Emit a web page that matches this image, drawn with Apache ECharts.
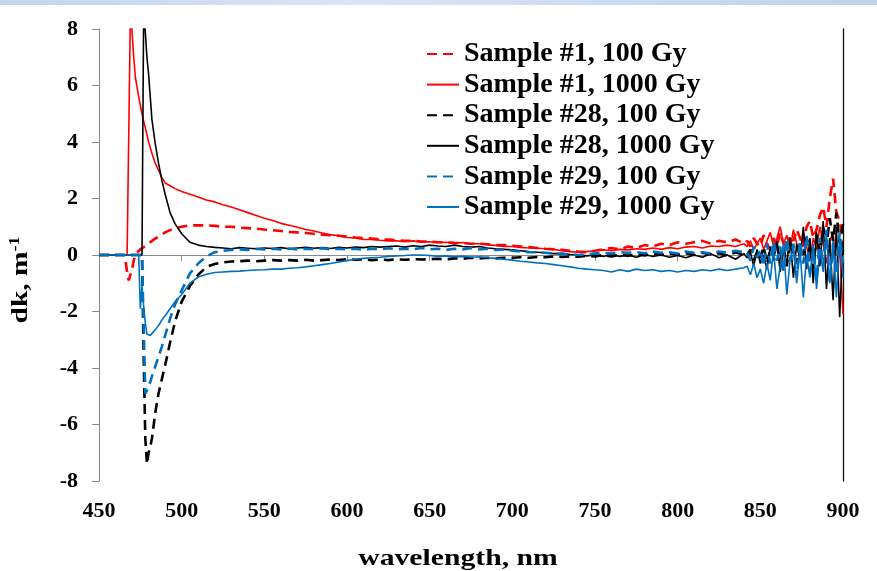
<!DOCTYPE html>
<html>
<head>
<meta charset="utf-8">
<script src="https://cdn.jsdelivr.net/npm/echarts@6/dist/echarts.min.js"></script>
<style>
html,body{margin:0;padding:0;background:#fff;}
#chart{width:877px;height:571px;}
</style>
</head>
<body>
<div id="chart"></div>
<script>
// wavelength grid, nm
const wavelength = [
  450, 460, 465, 466, 467, 468, 469, 470, 471, 472, 474, 475, 476, 477, 478, 479, 480, 481, 482, 484, 486, 488, 490, 493, 496, 500, 505, 510, 515,
  520, 525, 530, 535, 540, 545, 550, 555, 560, 565,
  570, 575, 580, 585, 590, 595, 600, 605, 610, 615,
  620, 625, 630, 635, 640, 645, 650, 655, 660, 665,
  670, 675, 680, 685, 690, 695, 700, 705, 710, 715,
  720, 725, 730, 735, 740, 745, 750, 755, 760, 765,
  770, 775, 780, 785, 790, 795, 800, 805, 810, 815,
  820, 825, 830, 835, 840,
  842, 844, 846, 848, 850, 852, 854, 856, 858, 860, 862, 864, 866, 868, 870,
  872, 874, 876, 878, 880, 882, 884, 886, 888, 890, 892, 894, 896, 898, 900
];

const s1_100 = [
  0, 0, 0, -0.2, -0.6, -0.9, -0.85, -0.5, -0.2, 0, 0.15, 0.2, 0.25, 0.3, 0.3, 0.35, 0.4, 0.45, 0.5, 0.58, 0.65, 0.72, 0.8, 0.88, 0.95, 1.0, 1.05, 1.05, 1.05,
  1.03, 1.0, 1.0, 0.97, 0.95, 0.93, 0.9, 0.88, 0.85, 0.82,
  0.8, 0.78, 0.75, 0.72, 0.7, 0.68, 0.65, 0.62, 0.6, 0.58,
  0.55, 0.55, 0.52, 0.5, 0.5, 0.48, 0.47, 0.45, 0.45, 0.43,
  0.42, 0.4, 0.4, 0.38, 0.35, 0.35, 0.33, 0.3, 0.28, 0.25,
  0.22, 0.2, 0.18, 0.15, 0.12, 0.1, 0.15, 0.2, 0.25, 0.2,
  0.3, 0.25, 0.35, 0.3, 0.4, 0.35, 0.45, 0.4, 0.45, 0.5,
  0.4, 0.5, 0.45, 0.55, 0.4,
  0.5, 0.3, 0.6, 0.4, 0.3, 0.7, 0.4, 0.2, 0.6, 0.3, 0.8, 0.4, 0.2, 0.7, 0.5,
  0.9, 0.6, 0.3, 1.0, 1.2, 0.6, 0.9, 1.4, 1.7, 1.0, 2.0, 2.7, 1.5, 1.2, 0.5
];

const s1_1000 = [
  0, 0, 0, 0, 0, 0, 8.6, 7.9, 7.0, 6.3, 5.6, 5.3, 5.0, 4.75, 4.5, 4.25, 4.0, 3.8, 3.6, 3.25, 3.0, 2.75, 2.55, 2.45, 2.35, 2.25, 2.15, 2.05, 1.95,
  1.88, 1.78, 1.7, 1.6, 1.5, 1.4, 1.3, 1.22, 1.12, 1.05,
  0.98, 0.9, 0.85, 0.78, 0.72, 0.68, 0.62, 0.6, 0.55, 0.55,
  0.52, 0.5, 0.5, 0.48, 0.5, 0.46, 0.47, 0.44, 0.45, 0.42,
  0.44, 0.4, 0.4, 0.36, 0.34, 0.3, 0.3, 0.27, 0.25, 0.24,
  0.22, 0.2, 0.15, 0.12, 0.1, 0.12, 0.15, 0.18, 0.15, 0.2,
  0.18, 0.22, 0.2, 0.25, 0.2, 0.26, 0.22, 0.28, 0.3, 0.25,
  0.32, 0.3, 0.35, 0.3, 0.4,
  0.3, 0.5, 0.2, 0.4, 0.6, 0.2, 0.5, 0.8, 0.3, 0.6, 1.0, 0.4, 0.7, 0.2, 0.9,
  0.4, 0.1, 0.8, 0.3, -0.2, 0.6, 0.2, 1.0, 0.4, -0.3, 0.5, 0.8, -0.5, 0.2, -2.1
];

const s28_100 = [
  0, 0, 0, 0, 0, 0, 0, 0, 0, 0, 0, 0, 0, -3.5, -6.5, -7.4, -7.0, -6.8, -6.5, -5.6, -4.9, -4.4, -3.9, -3.1, -2.35, -1.65, -1.1, -0.7, -0.42,
  -0.32, -0.26, -0.23, -0.22, -0.2, -0.22, -0.2, -0.18, -0.2, -0.18,
  -0.2, -0.17, -0.2, -0.18, -0.16, -0.18, -0.15, -0.17, -0.15, -0.18,
  -0.16, -0.18, -0.15, -0.17, -0.15, -0.16, -0.15, -0.13, -0.15, -0.12,
  -0.13, -0.1, -0.12, -0.1, -0.12, -0.1, -0.1, -0.08, -0.1, -0.07,
  -0.08, -0.05, -0.07, -0.05, -0.06, -0.03, -0.05, 0, -0.05, 0.02,
  -0.03, 0.03, -0.02, 0.05, 0, 0.05, 0.02, 0.06, 0, 0.08,
  0.02, 0.06, -0.02, 0.1, 0,
  0, 0.2, -0.2, 0.1, -0.1, 0.3, -0.3, 0.2, 0, 0.4, -0.2, 0.3, -0.4, 0.5, 0.1,
  -0.3, 0.4, 0, 0.6, 0.2, -0.5, 0.7, 0.1, 1.0, 0.3, 1.3, 0.5, 1.5, 0.4, 1.1
];

const s28_1000 = [
  0, 0, 0, 0, 0, 0, 0, 0, 0, 0, 0, 0, 0, 8.6, 7.9, 7.0, 6.4, 5.6, 4.8, 3.95, 3.25, 2.65, 2.15, 1.5, 1.1, 0.75, 0.45, 0.35, 0.3,
  0.27, 0.25, 0.22, 0.26, 0.24, 0.22, 0.25, 0.23, 0.26, 0.22,
  0.25, 0.27, 0.24, 0.26, 0.23, 0.27, 0.25, 0.28, 0.26, 0.3,
  0.28, 0.3, 0.32, 0.28, 0.33, 0.3, 0.35, 0.32, 0.3, 0.35,
  0.3, 0.28, 0.3, 0.25, 0.22, 0.2, 0.18, 0.15, 0.12, 0.1,
  0.08, 0.05, 0.05, 0.02, 0, -0.03, 0, -0.05, 0.02, -0.05,
  0, -0.08, 0.02, -0.05, 0, -0.08, -0.02, -0.1, 0, -0.08,
  0.05, -0.1, 0, -0.15, 0.05,
  -0.1, 0.1, -0.4, 0.2, -0.3, 0, -0.5, 0.3, -0.2, 0.5, -0.6, 0.2, -0.3, 0.6, -0.8,
  0.4, -0.2, 1.0, -0.5, 0.6, -1.0, 0.8, -0.4, 1.2, -1.2, 0.6, -1.6, 1.0, -2.2, 0.5
];

const s29_100 = [
  0, 0, 0, 0, 0, 0, 0, 0, 0, 0, 0, 0, 0, -2.5, -4.9, -4.8, -4.6, -4.5, -4.3, -3.95, -3.6, -3.25, -2.85, -2.25, -1.75, -1.25, -0.65, -0.3, -0.05,
  0.1, 0.15, 0.18, 0.2, 0.18, 0.22, 0.2, 0.22, 0.2, 0.23,
  0.2, 0.22, 0.2, 0.24, 0.2, 0.22, 0.2, 0.22, 0.18, 0.22,
  0.2, 0.24, 0.2, 0.22, 0.2, 0.25, 0.2, 0.22, 0.18, 0.22,
  0.2, 0.25, 0.2, 0.22, 0.18, 0.2, 0.15, 0.12, 0.1, 0.1,
  0.08, 0.05, 0.05, 0.02, 0, 0.02, 0.05, 0.08, 0.05, 0.1,
  0.08, 0.1, 0.06, 0.12, 0.08, 0.1, 0.05, 0.12, 0.08, 0.1,
  0.05, 0.12, 0.08, 0.15, 0.1,
  0.1, -0.2, 0.3, -0.1, 0.2, -0.4, 0.4, -0.3, 0.5, -0.2, 0.3, -0.6, 0.6, -0.2, 0.4,
  -0.8, 0.5, -0.3, 0.7, -0.6, 0.2, -0.9, 0.6, -0.4, 0.9, -1.0, 0.4, -0.6, 0.8, -0.3
];

const s29_1000 = [
  0, 0, 0, 0, 0, 0, 0, 0, 0, 0, 0, -1.9, -1.1, -1.8, -2.4, -2.8, -2.85, -2.85, -2.8, -2.65, -2.5, -2.3, -2.15, -1.9, -1.65, -1.4, -1.0, -0.78, -0.68,
  -0.62, -0.6, -0.58, -0.57, -0.55, -0.53, -0.52, -0.5, -0.5, -0.47,
  -0.45, -0.42, -0.38, -0.34, -0.3, -0.25, -0.2, -0.15, -0.12, -0.1,
  -0.08, -0.05, -0.03, -0.02, 0, 0, -0.02, -0.05, -0.03, -0.06,
  -0.05, -0.08, -0.06, -0.1, -0.12, -0.15, -0.18, -0.22, -0.25, -0.28,
  -0.3, -0.34, -0.38, -0.42, -0.47, -0.5, -0.52, -0.55, -0.6, -0.52,
  -0.58, -0.5, -0.55, -0.52, -0.58, -0.55, -0.6, -0.55, -0.58, -0.52,
  -0.56, -0.5, -0.55, -0.5, -0.45,
  -0.4, -0.7, -0.3, -0.8, -0.5, -1.0, -0.3, -0.9, 0.2, -1.2, -0.4, 0.4, -1.4, -0.2, 0.3,
  -1.0, 0.2, -1.5, 0, -0.8, 0.4, -1.2, 0.2, -0.6, 0.8, -1.0, 0.5, -1.5, 0.6, -0.8
];

const seriesNames = ['Sample #1, 100 Gy', 'Sample #1, 1000 Gy', 'Sample #28, 100 Gy', 'Sample #28, 1000 Gy', 'Sample #29, 100 Gy', 'Sample #29, 1000 Gy'];
const seriesValues = [s1_100, s1_1000, s28_100, s28_1000, s29_100, s29_1000];
const seriesColors = ['#ff0000', '#ff0000', '#000000', '#000000', '#0070c0', '#0070c0'];
const seriesDashed = [true, false, true, false, true, false];

const FONT = 'Liberation Serif, Times New Roman, serif';

const chart = echarts.init(document.getElementById('chart'), null, {renderer: 'canvas'});

const series = seriesNames.map((name, k) => ({
  name: name,
  type: 'line',
  xAxisIndex: 0,
  yAxisIndex: 0,
  data: wavelength.map((w, i) => [w, seriesValues[k][i]]),
  showSymbol: false,
  symbol: 'none',
  clip: true,
  lineStyle: {
    color: seriesColors[k],
    width: seriesDashed[k] ? 2.6 : 1.6,
    type: seriesDashed[k] ? [10, 6] : 'solid'
  },
  itemStyle: {color: seriesColors[k]},
  emphasis: {disabled: true},
  z: 2 + k
}));

const option = {
  animation: false,
  backgroundColor: '#ffffff',
  grid: {left: 99, right: 34, top: 29, bottom: 90, containLabel: false},
  legend: {
    orient: 'vertical',
    left: 421,
    top: 35,
    itemWidth: 32,
    itemHeight: 14,
    itemGap: 2.6,
    data: seriesNames,
    itemStyle: {opacity: 0},
    textStyle: {fontFamily: FONT, fontWeight: 'bold', fontSize: 28, color: '#000', lineHeight: 25}
  },
  xAxis: [
    {
      type: 'value', min: 450, max: 900, interval: 50, position: 'bottom',
      axisLine: {show: true, lineStyle: {color: '#8a8a8a', width: 1}},
      axisTick: {show: true, inside: false, length: 6, lineStyle: {color: '#8a8a8a'}},
      axisLabel: {fontFamily: FONT, fontWeight: 'bold', fontSize: 22, color: '#000', margin: 19, showMinLabel: true, showMaxLabel: true},
      splitLine: {show: false}
    },
    {
      type: 'value', min: 450, max: 900, interval: 50, position: 'top',
      axisLine: {show: true, lineStyle: {color: '#8a8a8a', width: 1}},
      axisTick: {show: false}, axisLabel: {show: false}, splitLine: {show: false}
    }
  ],
  yAxis: [
    {
      type: 'value', min: -8, max: 8, interval: 2, position: 'left',
      axisLine: {show: true, onZero: false, lineStyle: {color: '#8a8a8a', width: 1}},
      axisTick: {show: true, inside: false, length: 7, lineStyle: {color: '#8a8a8a'}},
      axisLabel: {fontFamily: FONT, fontWeight: 'bold', fontSize: 22, color: '#000', margin: 21, showMinLabel: true, showMaxLabel: true},
      splitLine: {show: false}
    },
    {
      type: 'value', min: -8, max: 8, interval: 2, position: 'right',
      axisLine: {show: true, onZero: false, lineStyle: {color: '#111', width: 1.3}},
      axisTick: {show: false}, axisLabel: {show: false}, splitLine: {show: false}
    }
  ],
  graphic: [
    {
      type: 'rect', left: 0, top: 0, z: 100,
      shape: {x: 0, y: 0, width: 877, height: 5},
      style: {
        fill: new echarts.graphic.LinearGradient(0, 0, 1, 0, [
          {offset: 0, color: '#c6d4ee'},
          {offset: 0.4, color: '#dbe4f4'},
          {offset: 0.7, color: '#cfdbf1'},
          {offset: 1, color: '#c2d1ec'}
        ])
      }
    },
    {
      type: 'text', x: 458, y: 559, scaleX: 1.29, z: 100,
      style: {
        text: 'wavelength, nm', fill: '#000',
        font: 'bold 23px ' + FONT,
        align: 'center', verticalAlign: 'middle'
      }
    },
    {
      type: 'text', x: 21, y: 280, rotation: Math.PI / 2, scaleX: 1.28, z: 100,
      style: {
        text: '{a|dk, m}{b|-1}', fill: '#000',
        align: 'center', verticalAlign: 'middle',
        rich: {
          a: {font: 'bold 23px ' + FONT, fill: '#000', lineHeight: 26},
          b: {font: 'bold 14px ' + FONT, fill: '#000', verticalAlign: 'top', lineHeight: 26}
        }
      }
    }
  ],
  series: series
};

chart.setOption(option);
</script>
</body>
</html>
